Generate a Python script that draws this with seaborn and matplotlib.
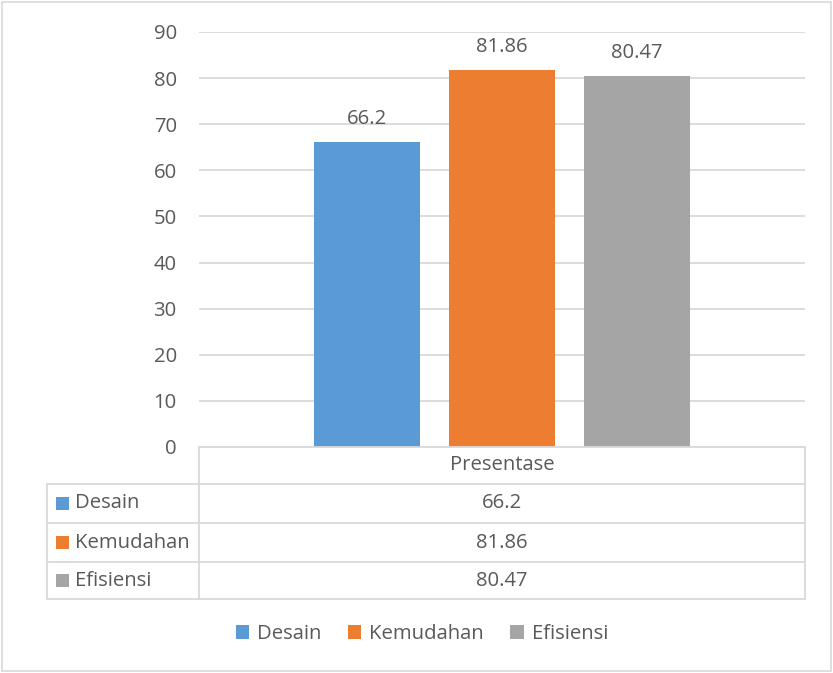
import matplotlib
matplotlib.use("Agg")
import matplotlib.pyplot as plt
import seaborn as sns
import pandas as pd
from matplotlib.lines import Line2D
from matplotlib.patches import Rectangle

# Data
category = "Presentase"
series = ["Desain", "Kemudahan", "Efisiensi"]
values = [66.2, 81.86, 80.47]
colors = ["#5B9BD5", "#ED7D31", "#A5A5A5"]
yticks = [0, 10, 20, 30, 40, 50, 60, 70, 80, 90]

df = pd.DataFrame({"kategori": [category] * len(series), "seri": series, "nilai": values})

sns.set_theme(style="white")
plt.rcParams["font.family"] = ["Open Sans", "DejaVu Sans"]
TEXT = "#595959"
GRID = "#D9D9D9"
FS = 14.6

W, H = 833, 673
fig = plt.figure(figsize=(W / 100, H / 100), dpi=100)

def fx(px):
    return px / W

def fy(py):
    return 1 - py / H

# plot area in pixel coordinates
left, right, top, bottom = 199, 805, 32, 447
ax = fig.add_axes([fx(left), fy(bottom), fx(right) - fx(left), fy(top) - fy(bottom)])

sns.barplot(data=df, x="kategori", y="nilai", hue="seri", hue_order=series,
            palette=colors, width=0.668, gap=0.215, saturation=1, linewidth=0,
            ax=ax, zorder=3, legend=True)

ax.set_xlim(-0.5, 0.5)
ax.set_ylim(0, 90)
ax.set_yticks(yticks)
ax.set_yticklabels([str(t) for t in yticks], fontsize=FS, color=TEXT)
ax.tick_params(axis="y", length=0, pad=16)
ax.set_xticks([])
ax.set_xlabel("")
ax.set_ylabel("")
for s in ax.spines.values():
    s.set_visible(False)
ax.yaxis.grid(True, color=GRID, linewidth=1.3, zorder=0)
ax.set_axisbelow(True)

for cont, v in zip(ax.containers, values):
    ax.bar_label(cont, labels=[f"{v:g}"], padding=9, fontsize=FS, color=TEXT)

handles, labels = ax.get_legend_handles_labels()
ax.get_legend().remove()

# data table below the plot
rows = [447, 484, 523, 562, 599]
tab_left = 47
lw = 1.3

def hline(y, x0, x1):
    fig.add_artist(Line2D([fx(x0), fx(x1)], [fy(y), fy(y)], color=GRID, lw=lw,
                          transform=fig.transFigure))

def vline(x, y0, y1):
    fig.add_artist(Line2D([fx(x), fx(x)], [fy(y0), fy(y1)], color=GRID, lw=lw,
                          transform=fig.transFigure))

hline(rows[0], left, right)
for y in rows[1:]:
    hline(y, tab_left, right)
vline(left, rows[0], rows[-1])
vline(right, rows[0], rows[-1])
vline(tab_left, rows[1], rows[-1])

cx = (left + right) / 2
fig.text(fx(cx), fy((rows[0] + rows[1]) / 2), category, ha="center", va="center",
         fontsize=FS, color=TEXT)
for i, (name, v, c) in enumerate(zip(series, values, colors)):
    yc = (rows[i + 1] + rows[i + 2]) / 2
    fig.add_artist(Rectangle((fx(56), fy(yc + 6.5)), fx(13), 13 / H,
                             facecolor=c, edgecolor="none", transform=fig.transFigure))
    fig.text(fx(75), fy(yc), name, ha="left", va="center", fontsize=FS, color=TEXT)
    fig.text(fx(cx), fy(yc), f"{v:g}", ha="center", va="center", fontsize=FS, color=TEXT)

# legend
fig.legend(handles, labels, loc="center", bbox_to_anchor=(fx(cx - 80), fy(634)),
           ncol=3, frameon=False, fontsize=FS, labelcolor=TEXT,
           handlelength=0.65, handleheight=0.65, handletextpad=0.4, columnspacing=1.3)

# chart border
fig.add_artist(Rectangle((fx(2), fy(671)), fx(829), 669 / H, facecolor="none",
                         edgecolor=GRID, lw=1.2, transform=fig.transFigure))

fig.savefig("out.png", dpi=100)
